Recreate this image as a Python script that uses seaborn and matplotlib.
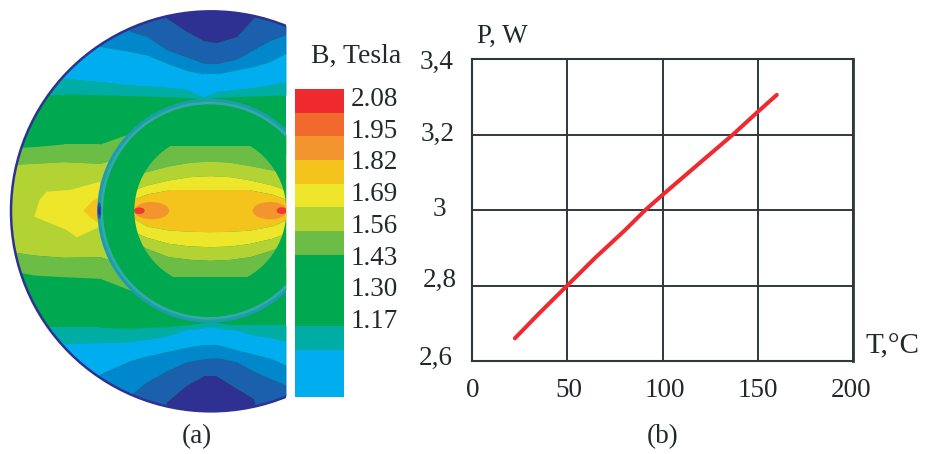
import numpy as np
import matplotlib
matplotlib.use("Agg")
import matplotlib.pyplot as plt
from matplotlib.colors import ListedColormap
from matplotlib.patches import Circle, Ellipse, Polygon
from matplotlib.transforms import ScaledTranslation
import seaborn as sns

# ---- panel (b) data
temp_c = [22.5, 35, 50, 65, 80, 91, 100, 115, 137, 150, 160]
power_w = [2.66, 2.725, 2.80, 2.875, 2.945, 3.00, 3.04, 3.105, 3.20, 3.26, 3.305]
x_ticks = [0, 50, 100, 150, 200]
y_ticks = [2.6, 2.8, 3.0, 3.2, 3.4]
y_tick_labels = ["2,6", "2,8", "3", "3,2", "3,4"]

# ---- panel (a) colour scale
scale_labels = ["2.08", "1.95", "1.82", "1.69", "1.56", "1.43", "1.30", "1.17"]
scale_levels = [2.08, 1.95, 1.82, 1.69, 1.56, 1.43, 1.30, 1.17, 1.04, 0.91, 0.78, 0.65, 0.52]
NAVY, BLUE, MID, LIGHT = "#2E3192", "#1A60AC", "#0087CC", "#00AEEF"
TEAL, GREEN, MG, YG = "#00ADA5", "#00A94F", "#6CBD45", "#B3D335"
YEL, GOLD, ORG, DORG, RED = "#EEE62A", "#F4C41C", "#F3952F", "#F2692E", "#EE2A2E"
scale_colors = [LIGHT, LIGHT, TEAL, GREEN, GREEN, GREEN, MG, YG, YEL, GOLD, ORG, DORG, RED]

# ---- panel (a) field: band borders
col_x = [0, 100, 190, 300, 390, 440, 500, 560, 610, 650, 710, 760, 810, 858]
top_navy = [0, 0, 0, 0, 0, 0, 55, 95, 122, 128, 110, 55, 0, 0]
top_blue = [0, 0, 0, 0, 95, 110, 150, 172, 190, 192, 178, 150, 122, 105]
top_mid = [0, 0, 0, 140, 155, 165, 190, 212, 222, 222, 210, 200, 185, 160]
top_light = [232, 232, 235, 245, 255, 258, 262, 268, 292, 275, 268, 263, 255, 245]
top_teal = [282, 282, 282, 284, 287, 288, 290, 292, 297, 292, 290, 288, 286, 285]
top_green = [445, 440, 432, 432, 400, 400, 400, 400, 400, 400, 400, 400, 400, 400]
top_mg = [495, 490, 485, 490, 465, 465, 465, 465, 465, 465, 465, 465, 465, 465]
low_yg = [750, 765, 772, 770, 800, 800, 800, 800, 800, 800, 800, 800, 800, 800]
low_mg = [805, 825, 830, 835, 870, 870, 870, 870, 870, 870, 870, 870, 870, 870]
low_green = [982, 982, 982, 982, 985, 982, 980, 975, 968, 968, 975, 975, 975, 975]
low_teal = [1030, 1030, 1030, 1028, 1025, 1018, 1008, 988, 985, 985, 990, 1005, 1012, 1025]
low_light = [1362, 1362, 1362, 1122, 1082, 1068, 1055, 1042, 1034, 1033, 1050, 1062, 1075, 1095]
low_mid = [1362, 1362, 1362, 1362, 1185, 1145, 1112, 1085, 1076, 1073, 1085, 1113, 1135, 1155]
low_blue = [1362, 1362, 1362, 1362, 1362, 1362, 1205, 1155, 1128, 1128, 1165, 1195, 1362, 1362]
yellow_patch = [(103, 650), (118, 600), (140, 575), (210, 570), (300, 545), (300, 680),
                (230, 712), (200, 690)]
gold_patch = [(250, 632), (275, 605), (300, 590), (300, 672), (275, 655)]

core_x = [400, 440, 505, 570, 630, 690, 750, 815, 858]
core_mg_top = [438, 438, 438, 438, 438, 438, 438, 438, 438]
core_yg_top = [525, 515, 498, 487, 483, 487, 497, 510, 520]
core_yel_top = [570, 555, 540, 530, 527, 530, 540, 555, 570]
core_gold_top = [598, 582, 570, 570, 570, 570, 570, 582, 598]
core_gold_low = [655, 678, 690, 694, 695, 694, 690, 678, 660]
core_yel_low = [695, 712, 730, 738, 740, 738, 730, 715, 700]
core_yg_low = [725, 745, 770, 778, 781, 778, 770, 750, 730]
core_mg_low = [827, 827, 827, 827, 827, 827, 827, 827, 827]

sns.set_theme(style="white")
plt.rcParams["font.family"] = ["Liberation Serif", "DejaVu Serif"]
INK = "#23282b"
W, H = 927, 454
fig = plt.figure(figsize=(W / 100, H / 100), dpi=100, facecolor="white")


def axes_px(left, top, right, bottom):
    return fig.add_axes([left / W, 1 - bottom / H, (right - left) / W, (bottom - top) / H])


# ---------- field
ax = axes_px(0, 0, 286, H)
ax.set_xlim(0, 858)
ax.set_ylim(1362, 0)
ax.axis("off")
disc = Circle((633, 634), 600, transform=ax.transData)
ax.add_patch(Circle((633, 634), 600, fc=GREEN, ec="none"))
layers = [
    (top_navy, top_blue, BLUE), (top_blue, top_mid, MID), (top_mid, top_light, LIGHT),
    (top_light, top_teal, TEAL), (top_green, top_mg, MG), (top_mg, low_yg, YG),
    (low_yg, low_mg, MG), (low_green, low_teal, TEAL), (low_teal, low_light, LIGHT),
    (low_light, low_mid, MID), (low_mid, low_blue, BLUE),
]
for upper, lower, color in layers:
    band = ax.fill_between(col_x, upper, lower, color=color, lw=0)
    band.set_clip_path(disc)
band = ax.fill_between(col_x, [0] * len(col_x), top_navy, color=NAVY, lw=0)
band.set_clip_path(disc)
band = ax.fill_between(col_x, low_blue, [1362] * len(col_x), color=NAVY, lw=0)
band.set_clip_path(disc)
ax.add_patch(Polygon(yellow_patch, fc=YEL, ec="none"))
ax.add_patch(Polygon(gold_patch, fc=GOLD, ec="none"))
ax.add_patch(Circle((633, 634), 600, fc="none", ec=NAVY, lw=1.8))

# ring and core
ax.add_patch(Circle((628, 632), 336, fc="#1B9DAE", ec="none"))
ax.add_patch(Circle((628, 632), 327, fc="#35A9A8", ec="none"))
ax.add_patch(Circle((628, 632), 319, fc=GREEN, ec="none"))
ax.add_patch(Ellipse((298, 632), 12, 50, fc=BLUE, ec="none"))
ax.add_patch(Ellipse((298, 632), 6, 26, fc=NAVY, ec="none"))
core = Circle((631, 632), 228, transform=ax.transData)
core_layers = [
    (core_mg_top, core_yg_top, MG), (core_yg_top, core_yel_top, YG),
    (core_yel_top, core_gold_top, YEL), (core_gold_top, core_gold_low, GOLD),
    (core_gold_low, core_yel_low, YEL), (core_yel_low, core_yg_low, YG),
    (core_yg_low, core_mg_low, MG),
]
for upper, lower, color in core_layers:
    band = ax.fill_between(core_x, upper, lower, color=color, lw=0)
    band.set_clip_path(core)
for cx, w, cx2, w2 in [(455, 104, 418, 32), (810, 104, 845, 30)]:
    ax.add_patch(Ellipse((cx, 632), w, 52, fc=ORG, ec="none"))
    ax.add_patch(Ellipse((cx2, 632), w2, 20, fc=RED, ec="none", alpha=0.85))

# ---------- colour scale
ax_bar = axes_px(295, 89, 344, 397)
sns.heatmap(np.array(scale_levels).reshape(-1, 1), ax=ax_bar, cbar=False,
            cmap=ListedColormap(scale_colors), vmin=min(scale_levels) - 0.065,
            vmax=max(scale_levels) + 0.065, xticklabels=False, linewidths=0)
ax_bar.yaxis.tick_right()
ax_bar.set_yticks([0.31 + 1.34 * i for i in range(len(scale_labels))])
ax_bar.set_yticklabels(scale_labels, rotation=0, fontsize=19.5, color=INK)
ax_bar.tick_params(axis="y", length=0, pad=5)

# ---------- P(T) chart
ax_p = axes_px(472, 59, 853, 361)
sns.lineplot(x=temp_c, y=power_w, ax=ax_p, color="#EE2A30", lw=2.9, solid_capstyle="round",
             errorbar=None, sort=False, zorder=3)
ax_p.set_xlim(0, 200)
ax_p.set_ylim(2.6, 3.4)
ax_p.set_xticks(x_ticks)
ax_p.set_yticks(y_ticks)
ax_p.set_yticklabels(y_tick_labels)
ax_p.grid(True, color="#2F393C", lw=1.4)
ax_p.set_axisbelow(True)
for side, spine in ax_p.spines.items():
    spine.set_visible(True)
    spine.set_color("#2F393C")
    spine.set_linewidth(1.5)
ax_p.spines["right"].set_linewidth(2.0)
ax_p.tick_params(axis="both", length=0, labelsize=19.5, labelcolor=INK)
ax_p.tick_params(axis="x", pad=12)
ax_p.tick_params(axis="y", pad=16)
for lab, dx in zip(ax_p.get_xticklabels(), [1, 2, 2, 0, -2]):
    lab.set_transform(lab.get_transform() + ScaledTranslation(dx / 100, 0, fig.dpi_scale_trans))
for lab, (dx, dy) in zip(ax_p.get_yticklabels(),
                         [(3, 6), (7, 8), (-4, 3), (5, 3), (4, 0)]):
    lab.set_transform(lab.get_transform() + ScaledTranslation(dx / 100, dy / 100, fig.dpi_scale_trans))


# ---------- free labels
def label(x, y, s, ha="center", size=19.5):
    fig.text(x / W, 1 - y / H, s, ha=ha, va="center", fontsize=size, color=INK)


label(356, 56, "B, Tesla", size=20)
label(197, 437, "(a)", size=19.5)
label(663, 437, "(b)", size=19.5)
label(477, 36, "P, W", ha="left", size=19.5)
label(865, 346, "T,°C", ha="left", size=21)

fig.savefig("out.png", dpi=100, facecolor="white")
